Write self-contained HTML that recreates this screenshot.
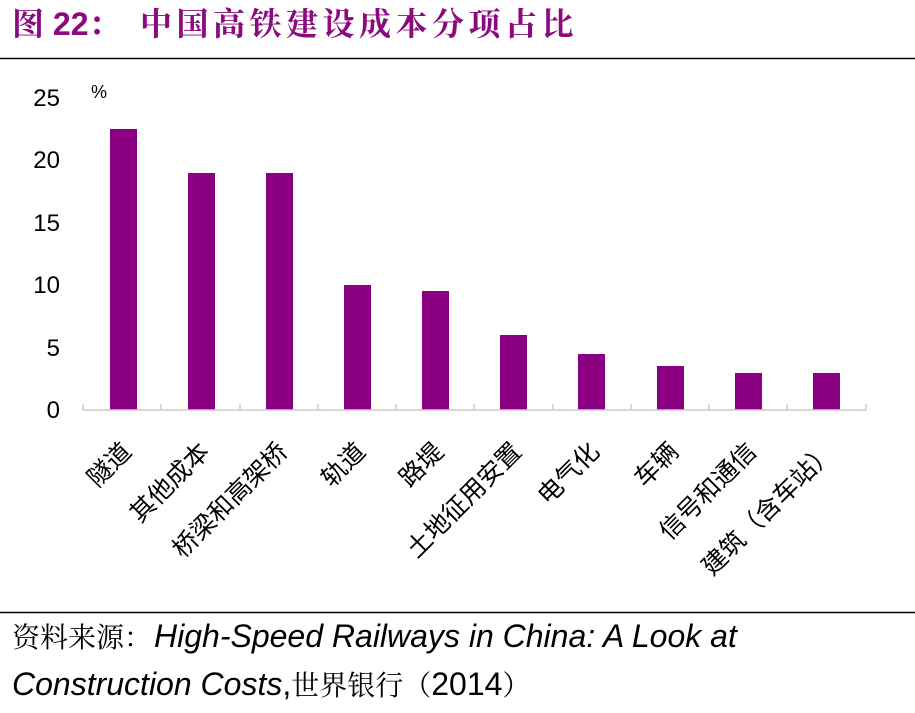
<!DOCTYPE html>
<html><head><meta charset="utf-8"><style>
body{margin:0;background:#fff;width:915px;height:713px;overflow:hidden}
svg{display:block}
</style></head><body>
<svg width="915" height="713" xmlns="http://www.w3.org/2000/svg" font-family="Liberation Sans, Noto Sans CJK SC, sans-serif">
<text x="12" y="35" font-size="32" font-weight="bold" fill="#8B0A7F" font-family="Liberation Sans, Noto Serif CJK SC, Noto Sans CJK SC, sans-serif"><tspan>图 22：</tspan><tspan x="140" letter-spacing="4.5">中国高铁建设成本分项占比</tspan></text>
<line x1="0" y1="58.5" x2="915" y2="58.5" stroke="#000" stroke-width="1.5"/>
<g font-size="24" fill="#000" text-anchor="end">
<text x="60" y="418">0</text><text x="60" y="356">5</text><text x="60" y="293">10</text>
<text x="60" y="231">15</text><text x="60" y="168">20</text><text x="60" y="106">25</text>
</g>
<text x="91" y="98" font-size="18">%</text>
<g fill="#8B0080">
<rect x="110" y="129" width="27" height="281"/>
<rect x="188" y="173" width="27" height="237"/>
<rect x="266" y="173" width="27" height="237"/>
<rect x="344" y="285" width="27" height="125"/>
<rect x="422" y="291" width="27" height="119"/>
<rect x="500" y="335" width="27" height="75"/>
<rect x="578" y="354" width="27" height="56"/>
<rect x="657" y="366" width="27" height="44"/>
<rect x="735" y="373" width="27" height="37"/>
<rect x="813" y="373" width="27" height="37"/>
</g>
<g stroke="#ccc" stroke-width="1.5">
<line x1="83" y1="410" x2="866" y2="410"/>
<line x1="83" y1="404" x2="83" y2="410"/><line x1="161" y1="404" x2="161" y2="410"/>
<line x1="240" y1="404" x2="240" y2="410"/><line x1="318" y1="404" x2="318" y2="410"/>
<line x1="396" y1="404" x2="396" y2="410"/><line x1="474" y1="404" x2="474" y2="410"/>
<line x1="553" y1="404" x2="553" y2="410"/><line x1="631" y1="404" x2="631" y2="410"/>
<line x1="709" y1="404" x2="709" y2="410"/><line x1="787" y1="404" x2="787" y2="410"/>
<line x1="866" y1="404" x2="866" y2="410"/>
</g>
<g font-size="25" text-anchor="end" fill="#000">
<text transform="translate(133,453) rotate(-45)">隧道</text>
<text transform="translate(211,453) rotate(-45)">其他成本</text>
<text transform="translate(289,453) rotate(-45)">桥梁和高架桥</text>
<text transform="translate(367,453) rotate(-45)">轨道</text>
<text transform="translate(445,453) rotate(-45)">路堤</text>
<text transform="translate(523,453) rotate(-45)">土地征用安置</text>
<text transform="translate(601,453) rotate(-45)">电气化</text>
<text transform="translate(680,453) rotate(-45)">车辆</text>
<text transform="translate(758,453) rotate(-45)">信号和通信</text>
<text transform="translate(836,453) rotate(-45)">建筑（含车站）</text>
</g>
<line x1="0" y1="612.5" x2="915" y2="612.5" stroke="#000" stroke-width="1.5"/>
<text x="12" y="647" font-size="32" fill="#000"><tspan font-family="Noto Serif CJK SC, sans-serif" font-size="28">资料来源：</tspan><tspan font-style="italic" dx="2">High-Speed Railways in China: A Look at</tspan></text>
<text x="12" y="695" font-size="32" fill="#000"><tspan font-style="italic">Construction Costs</tspan><tspan>,</tspan><tspan font-family="Noto Serif CJK SC, sans-serif" font-size="28">世界银行（</tspan><tspan>2014</tspan><tspan font-family="Noto Serif CJK SC, sans-serif" font-size="28">）</tspan></text>
</svg>
</body></html>
